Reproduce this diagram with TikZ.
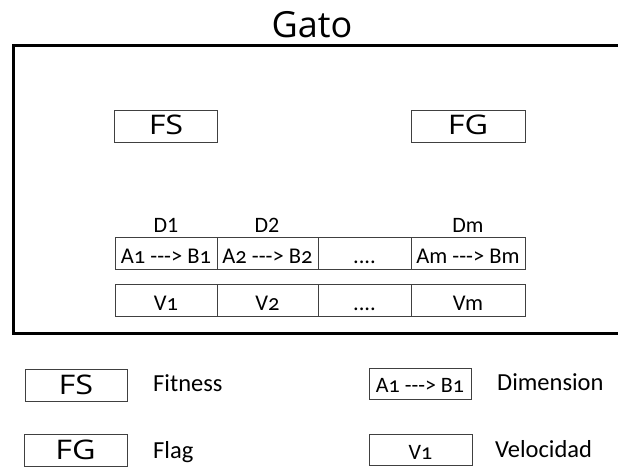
\documentclass[tikz,border=0pt]{standalone}
\usepackage{fontspec}
\setmainfont{Carlito}
\newfontfamily\titlefont{Open Sans}
\newfontfamily\widefont[FakeStretch=1.2]{Open Sans}
\newfontfamily\cellfont[Numbers=OldStyle]{Carlito}
\begin{document}
\begin{tikzpicture}[x=1pt,y=-1pt,
  box/.style={draw=black!75,line width=0.9pt,rectangle,inner sep=0pt,anchor=center},
  big/.style={font=\widefont\fontsize{27}{27}\selectfont,text height=17pt,text depth=0pt},
  cell/.style={font=\cellfont\fontsize{22.5}{22.5}\selectfont,text height=21pt,text depth=0pt},
  smallcell/.style={font=\cellfont\fontsize{22}{22}\selectfont,text height=18pt,text depth=0pt},
  dlbl/.style={font=\fontsize{22}{22}\selectfont,inner sep=0pt,anchor=base},
  lbl/.style={font=\fontsize{24.5}{24.5}\selectfont,inner sep=0pt,anchor=base west},
  frame/.style={line width=3pt}]
\useasboundingbox (0,0) rectangle (618,466);
\node[font=\titlefont\fontsize{36}{36}\selectfont,inner sep=0pt,anchor=base] (title) at (312,37) {Gato};
% frame
\coordinate (ftr) at (620,45);
\coordinate (ftl) at (13.5,45);
\coordinate (fbl) at (13.5,333);
\coordinate (fbr) at (620,333);
\draw[frame] (ftr) -- (ftl) -- (fbl) -- (fbr);
% FS FG
\node[box,big,minimum width=103pt,minimum height=32pt] (fs) at (166,126) {FS};
\node[box,big,minimum width=114pt,minimum height=32pt] (fg) at (468,126) {FG};
% dimension row
\node[box,cell,minimum width=102pt,minimum height=32pt] (d1) at (166,253) {A1 ---> B1};
\node[box,cell,minimum width=101pt,minimum height=32pt] (d2) at (267.5,253) {A2 ---> B2};
\node[box,cell,minimum width=93pt,minimum height=32pt] (d3) at (364.5,253) {....};
\node[box,cell,minimum width=114pt,minimum height=32pt] (dm) at (468,253) {Am ---> Bm};
% velocity row
\node[box,cell,minimum width=102pt,minimum height=32pt] (v1) at (166,300) {V1};
\node[box,cell,minimum width=101pt,minimum height=32pt] (v2) at (267.5,300) {V2};
\node[box,cell,minimum width=93pt,minimum height=32pt] (v3) at (364.5,300) {....};
\node[box,cell,minimum width=114pt,minimum height=32pt] (vm) at (468,300) {Vm};
% D labels
\node[dlbl] (l1) at (166,232) {D1};
\node[dlbl] (l2) at (267,232) {D2};
\node[dlbl] (lm) at (468,232) {Dm};
% legend
\node[box,big,text height=18pt,minimum width=102pt,minimum height=32pt] (lfs) at (76,385) {FS};
\node[lbl] (tfs) at (153,391) {Fitness};
\node[box,big,text height=18pt,minimum width=103pt,minimum height=32pt] (lfg) at (75.5,450) {FG};
\node[lbl] (tfg) at (153,458) {Flag};
\node[box,smallcell,minimum width=102pt,minimum height=31pt] (ldim) at (420,383.5) {A1 ---> B1};
\node[lbl] (tdim) at (497,390) {Dimension};
\node[box,smallcell,minimum width=103pt,minimum height=31pt] (lv) at (420.5,450) {V1};
\node[lbl] (tv) at (495,457) {Velocidad};
\end{tikzpicture}
\end{document}
